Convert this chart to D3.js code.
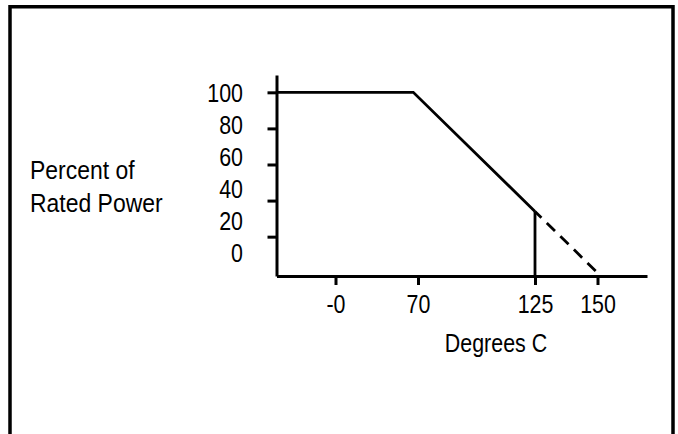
<!DOCTYPE html>
<html><head><meta charset="utf-8">
<script src="https://cdn.jsdelivr.net/npm/d3@7"></script>
<style>body{margin:0;background:#fff} svg{display:block}</style>
</head><body><svg id="c" width="678" height="434"></svg>
<script>
// ---- data ----
const xTickValues = [0, 70, 125, 150];
const xTickLabels = ["-0", "70", "125", "150"];
const yTickValues = [20, 40, 60, 80, 100];
const yLabelValues = [0, 20, 40, 60, 80, 100];
const yLabelTexts = ["0", "20", "40", "60", "80", "100"];
const xAxisMin = -50, xAxisMax = 190;
const yAxisMin = -1.8, yAxisMax = 109.6;
const curveTemp = [xAxisMin, 66, 125];     // solid derating curve (°C)
const curvePower = [100, 100, 34];         // % rated power
const extTemp = [125, 150];                // dashed extension
const extPower = [34, 0];
const cutTemp = [125, 125];                // vertical limit at 125 °C
const cutPower = [yAxisMin, 34];
const yTitleLines = ["Percent of", "Rated Power"];
const xTitle = "Degrees C";

const svg = d3.select("#c");
const FONT = "'Liberation Sans Narrow','Arial Narrow','Liberation Sans',Arial,sans-serif";
const FS = 25.5, SX = 0.84, SXT = 0.9;

// border frame
svg.append("rect").attr("x", 10).attr("y", 6.75).attr("width", 663).attr("height", 520)
  .attr("fill", "none").attr("stroke", "#000").attr("stroke-width", 3.5);

// diagram (non-uniform) temperature scale
const x = d3.scaleLinear()
  .domain([xAxisMin, 0, 70, 125, 150, xAxisMax])
  .range([276.5, 335.5, 418, 535, 597.5, 647]);
const y = d3.scaleLinear().domain([yAxisMin, yAxisMax]).range([276, 75]);
const yLab = d3.scaleLinear().domain([0, 100]).range([261.7, 101.7]);

// y axis
const gy = svg.append("g").attr("transform", `translate(${x(xAxisMin)},0)`)
  .call(d3.axisLeft(y).tickValues(yTickValues).tickSize(9).tickSizeOuter(0).tickFormat(""));
gy.selectAll("path,line").attr("stroke", "#000").attr("stroke-width", 3);

// y labels
svg.append("g").selectAll("text").data(yLabelValues).join("text")
  .attr("transform", d => `translate(243,${yLab(d)}) scale(${SX},1)`)
  .attr("text-anchor", "end")
  .attr("font-family", FONT).attr("font-size", FS).attr("fill", "#000")
  .text((d, i) => yLabelTexts[i]);

// x axis
const gx = svg.append("g").attr("transform", `translate(0,${y(yAxisMin)})`)
  .call(d3.axisBottom(x).tickValues(xTickValues).tickSize(9).tickSizeOuter(0)
    .tickFormat((d, i) => xTickLabels[i]));
gx.selectAll("path,line").attr("stroke", "#000").attr("stroke-width", 3);
gx.selectAll("text").attr("y", 37.3).attr("dy", 0).attr("fill", "#000")
  .attr("transform", `scale(${SX},1)`)
  .attr("font-family", FONT).attr("font-size", FS);

const line = d3.line().x(d => x(d[0])).y(d => y(d[1]));

svg.append("path").datum(curveTemp.map((t, i) => [t, curvePower[i]]))
  .attr("d", line).attr("fill", "none").attr("stroke", "#000").attr("stroke-width", 2.8)
  .attr("stroke-linejoin", "miter");
svg.append("path").datum(cutTemp.map((t, i) => [t, cutPower[i]]))
  .attr("d", line).attr("fill", "none").attr("stroke", "#000").attr("stroke-width", 2.8);
svg.append("path").datum(extTemp.map((t, i) => [t, extPower[i]]))
  .attr("d", line).attr("fill", "none").attr("stroke", "#000").attr("stroke-width", 2.8)
  .attr("stroke-dasharray", "11.5 7.5").attr("stroke-dashoffset", 2.5);

// titles
svg.append("g").selectAll("text").data(yTitleLines).join("text")
  .attr("transform", (d, i) => `translate(30,${179 + i * 32.7}) scale(${SXT},1)`)
  .attr("font-family", FONT).attr("font-size", FS).attr("fill", "#000").text(d => d);
svg.append("text").attr("transform", `translate(496,352) scale(${SX},1)`)
  .attr("text-anchor", "middle")
  .attr("font-family", FONT).attr("font-size", FS).attr("fill", "#000").text(xTitle);
</script></body></html>
